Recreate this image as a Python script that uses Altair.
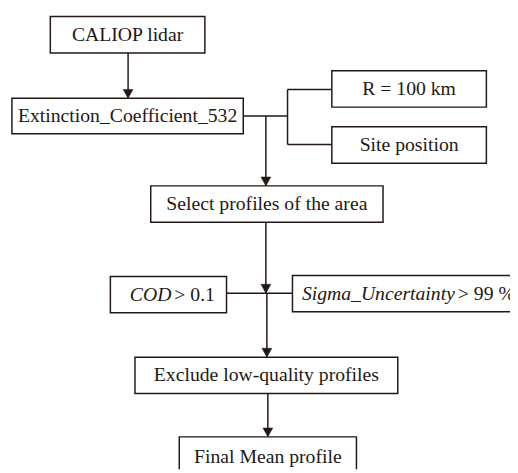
import altair as alt
import pandas as pd

# ---- content ----
box_labels = ["CALIOP lidar", "Extinction_Coefficient_532", "R = 100 km", "Site position",
              "Select profiles of the area", "", "", "Exclude low-quality profiles",
              "Final Mean profile"]
italic_labels = ["COD", "Sigma_Uncertainty"]
regular_suffix = ["> 0.1", "> 99 %"]

# ---- layout (page pixel coordinates) ----
box_x1 = [51, 12, 337, 337, 153, 112, 297, 137, 182]
box_x2 = [208, 247, 494, 494, 389, 230, 540, 404, 362]
box_y1 = [13, 96, 68, 125, 185, 277, 276, 359, 440]
box_y2 = [50, 132, 105, 162, 222, 314, 313, 396, 482]

seg_x1 = [130, 247, 292, 292, 292, 270, 270, 230, 271, 272]
seg_x2 = [130, 292, 292, 337, 337, 270, 270, 297, 271, 272]
seg_y1 = [50, 114, 87, 87, 143, 114, 222, 294, 294, 396]
seg_y2 = [95, 114, 143, 87, 143, 185, 294, 294, 358, 439]

arrow_x = [130, 270, 270, 271, 272]
arrow_tip = [96, 185, 294, 359, 440]

mix_split_x = [174, 462]   # boundary between italic and regular text
mix_y = [295.5, 294.5]

INK = "#231815"
FONT = "Liberation Serif"
FS = 20

boxes = pd.DataFrame({"x1": box_x1, "x2": box_x2, "y1": box_y1, "y2": box_y2,
                      "label": box_labels})
boxes["cx"] = (boxes.x1 + boxes.x2) / 2
boxes["cy"] = (boxes.y1 + boxes.y2) / 2
segs = pd.DataFrame({"x1": seg_x1, "x2": seg_x2, "y1": seg_y1, "y2": seg_y2})
arrows = pd.DataFrame({"x": arrow_x, "y": [t - 4.5 for t in arrow_tip]})
mix = pd.DataFrame({"x": mix_split_x, "y": mix_y, "it": italic_labels, "rg": regular_suffix})

xs = alt.Scale(domain=[8, 518])
ys = alt.Scale(domain=[8, 473], reverse=True)
X = lambda f: alt.X(f, type="quantitative", scale=xs, axis=None)
Y = lambda f: alt.Y(f, type="quantitative", scale=ys, axis=None)

lines = alt.Chart(segs).mark_rule(color=INK, strokeWidth=1.5, clip=True).encode(
    x=X("x1"), x2="x2", y=Y("y1"), y2="y2")

rects = alt.Chart(boxes).mark_rect(fill="white", stroke=INK, strokeWidth=1.5, clip=True).encode(
    x=X("x1"), x2="x2", y=Y("y1"), y2="y2")

texts = alt.Chart(boxes).mark_text(font=FONT, fontSize=FS, color=INK, baseline="middle",
                                   align="center", clip=True).encode(
    x=X("cx"), y=Y("cy"), text="label:N")

it_text = alt.Chart(mix).mark_text(font=FONT, fontSize=FS, color=INK, baseline="middle",
                                   align="right", fontStyle="italic", clip=True).encode(
    x=X("x"), y=Y("y"), text="it:N")
rg_text = alt.Chart(mix).mark_text(font=FONT, fontSize=FS, color=INK, baseline="middle",
                                   align="left", dx=3, clip=True).encode(
    x=X("x"), y=Y("y"), text="rg:N")

heads = alt.Chart(arrows).mark_point(shape="M-1,-0.9L1,-0.9L0,0.9Z", size=100, filled=True,
                                     fill=INK, stroke=INK, strokeWidth=0.5, opacity=1).encode(
    x=X("x"), y=Y("y"))

chart = alt.layer(lines, rects, texts, it_text, rg_text, heads).properties(
    width=510, height=465, padding=0, autosize=alt.AutoSizeParams(type="none"),
    background="white"
).configure_view(stroke=None)

chart.save("out.html", embed_options={"renderer": "svg", "actions": False})
